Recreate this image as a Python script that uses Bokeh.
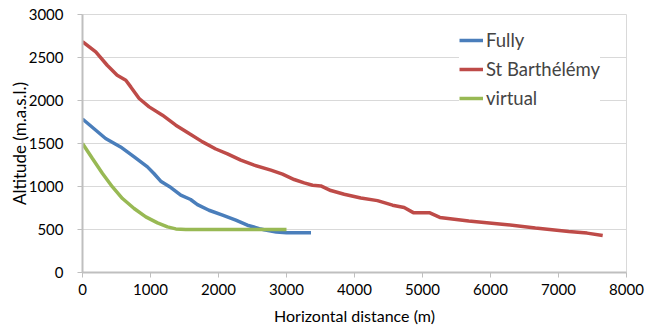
from bokeh.plotting import figure
from bokeh.models import Range1d, FixedTicker, Legend, LegendItem
from bokeh.embed import file_html
from bokeh.resources import INLINE

# Fully
fully_x = [0, 340, 560, 760, 955, 1050, 1150, 1300, 1445, 1590, 1690, 1860, 2060, 2255, 2425, 2600, 2670, 2850, 3000, 3360]
fully_y = [1785, 1558, 1460, 1344, 1228, 1151, 1062, 988, 899, 849, 790, 724, 666, 608, 550, 510, 498, 470, 462, 462]

# St Barthélémy
stb_x = [0, 195, 363, 510, 637, 710, 833, 980, 1176, 1372, 1568, 1765, 1960, 2132, 2328, 2525, 2770, 2941,
         3113, 3260, 3383, 3505, 3652, 3848, 4093, 4338, 4559, 4730, 4865, 5100, 5255, 5680, 6170, 6660,
         7150, 7420, 7650]
stb_y = [2685, 2565, 2410, 2294, 2236, 2158, 2023, 1926, 1829, 1713, 1616, 1519, 1436, 1380, 1306, 1248, 1190,
         1143, 1081, 1042, 1015, 1007, 953, 910, 867, 836, 783, 756, 696, 696, 640, 598, 562, 518,
         478, 458, 430]

# virtual
virt_x = [0, 146, 294, 441, 588, 759, 931, 1103, 1250, 1372, 1519, 2000, 2500, 3000]
virt_y = [1500, 1326, 1151, 995, 860, 744, 647, 577, 530, 507, 500, 500, 500, 500]

x_ticks = [0, 1000, 2000, 3000, 4000, 5000, 6000, 7000, 8000]
y_ticks = [0, 500, 1000, 1500, 2000, 2500, 3000]

FONT = "Lato"

p = figure(width=654, height=330, output_backend="svg", toolbar_location=None,
           x_range=Range1d(0, 8000), y_range=Range1d(0, 3000),
           min_border_left=82, min_border_right=28, min_border_top=14, min_border_bottom=58)

p.xgrid.grid_line_color = None
p.ygrid.grid_line_color = "#d9d9d9"
p.ygrid.grid_line_width = 1
p.outline_line_color = "#d9d9d9"
p.background_fill_color = "white"
p.border_fill_color = "white"

p.xaxis.ticker = FixedTicker(ticks=x_ticks)
p.yaxis.ticker = FixedTicker(ticks=y_ticks)
for ax in (p.xaxis[0], p.yaxis[0]):
    ax.axis_line_color = "#bfbfbf"
    ax.axis_line_width = 2
    ax.major_tick_line_color = "#bfbfbf"
    ax.major_tick_in = 0
    ax.minor_tick_line_color = None
    ax.major_label_text_font = FONT
    ax.major_label_text_font_size = "15px"
    ax.major_label_text_color = "#000000"
    ax.axis_label_text_font = FONT
    ax.axis_label_text_font_style = "normal"
    ax.axis_label_text_color = "#000000"
p.xaxis.axis_label_text_font_size = "16px"
p.yaxis.axis_label_text_font_size = "17px"
p.xaxis.major_tick_out = 5
p.yaxis.major_tick_out = 5
p.xaxis.major_label_standoff = 6
p.yaxis.major_label_standoff = 14
p.xaxis.axis_label = "Horizontal distance (m)"
p.yaxis.axis_label = "Altitude (m.a.s.l.)"
p.xaxis.axis_label_standoff = 8
p.yaxis.axis_label_standoff = -4

r1 = p.line(fully_x, fully_y, line_color="#4a7ebb", line_width=3.5)
r2 = p.line(stb_x, stb_y, line_color="#be4b48", line_width=3.5)
r3 = p.line(virt_x, virt_y, line_color="#98b954", line_width=3.5)

legend = Legend(items=[LegendItem(label="Fully", renderers=[r1]),
                       LegendItem(label="St Barthélémy", renderers=[r2]),
                       LegendItem(label="virtual", renderers=[r3])],
                location=(377, 163), border_line_color=None, background_fill_color="white",
                background_fill_alpha=1.0, label_text_font=FONT, label_text_font_size="18.5px",
                glyph_width=24, label_standoff=3, spacing=7, padding=4, margin=0)
p.add_layout(legend, "center")

open("out.html", "w").write(file_html(p, INLINE))
